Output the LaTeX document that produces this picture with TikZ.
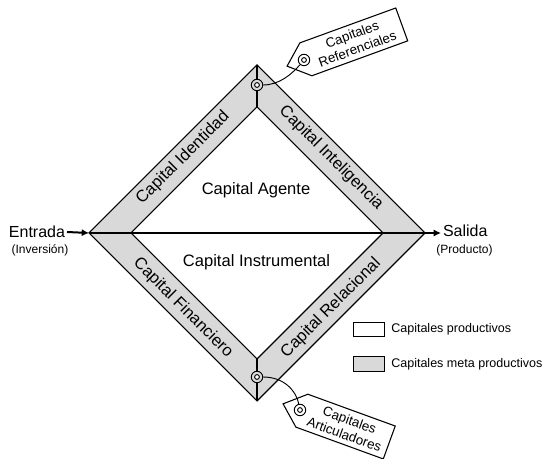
\documentclass[tikz,border=0pt]{standalone}
\usepackage{fontspec}
\setmainfont{Liberation Sans}
\usetikzlibrary{arrows.meta}
\definecolor{metagray}{RGB}{217,217,217}

\begin{document}
\begin{tikzpicture}[x=0.75pt,y=-0.75pt,
  edge/.style={line width=0.8pt, line join=miter},
  cord/.style={line width=0.7pt},
  bigtext/.style={font=\fontsize{12.4}{14}\selectfont, inner sep=0pt},
  iotext/.style={font=\fontsize{12}{14}\selectfont, inner sep=0pt, outer sep=1.5pt},
  smalltext/.style={font=\fontsize{9}{11}\selectfont, inner sep=0pt},
  legtext/.style={font=\fontsize{9.4}{11}\selectfont, inner sep=0pt, anchor=west},
  tagtext/.style={font=\fontsize{10}{11.5}\selectfont, inner sep=0pt, align=center},
  ring/.style={circle, draw, line width=0.7pt, minimum size=8.6pt, inner sep=0pt},
  legbox/.style={draw, line width=0.7pt, minimum width=23.2pt, minimum height=11pt, inner sep=0pt},
  flow/.style={line width=1.5pt, -{Latex[length=5.5pt,width=5.5pt]}}
]
\useasboundingbox (0,0) rectangle (544,459);

% corners of the outer and inner diamonds
\coordinate (L) at (89,233);
\coordinate (R) at (425,233);
\coordinate (T) at (257,65);
\coordinate (B) at (257,401);
\coordinate (iL) at (131,233);
\coordinate (iR) at (383,233);
\coordinate (iT) at (257,107);
\coordinate (iB) at (257,359);

% grey frame of meta-productive capitals, white productive core
\filldraw[fill=metagray, edge] (L) -- (T) -- (R) -- (B) -- cycle;
\filldraw[fill=white, edge] (iL) -- (iT) -- (iR) -- (iB) -- cycle;
\draw[edge] (L) -- (R);
\draw[edge] (T) -- (iT);
\draw[edge] (B) -- (iB);

% capital labels
\node[bigtext] (agente) at (256,190) {Capital Agente};
\node[bigtext] (instrumental) at (256.5,262) {Capital Instrumental};
\node[bigtext, rotate=45] (identidad) at (183,158) {Capital Identidad};
\node[bigtext, rotate=-45] (inteligencia) at (331,158) {Capital Inteligencia};
\node[bigtext, rotate=-45] (financiero) at (183,308) {Capital Financiero};
\node[bigtext, rotate=45] (relacional) at (331,308) {Capital Relacional};

% input and output
\node[iotext, anchor=east] (entrada) at (67,232) {Entrada};
\node[smalltext] (inversion) at (40,250.5) {(Inversión)};
\draw[flow] (entrada.east) -- (L);
\node[iotext, anchor=west] (salida) at (441,231) {Salida};
\node[smalltext] (producto) at (464.5,250) {(Producto)};
\draw[flow] (R) -- (salida.west |- R);

% rings at the top and bottom vertices
\node[ring, fill=metagray] (ringT) at (257,85) {};
\draw[line width=0.7pt, fill=white] (ringT.center) circle[radius=2.4];
\node[ring, fill=metagray] (ringB) at (257,377) {};
\draw[line width=0.7pt, fill=white] (ringB.center) circle[radius=2.4];

% tag: Capitales Referenciales
\coordinate (hT) at (304,60);
\begin{scope}[shift={(hT)}, rotate=20]
  \filldraw[fill=white, edge] (-18,0) -- (2,-17.5) -- (104,-17.5) -- (104,17.5) -- (2,17.5) -- cycle;
  \node[tagtext, rotate=20] (tagref) at (54,0) {Capitales\\Referenciales};
\end{scope}
\node[ring, fill=white] (holeT) at (hT) {};
\draw[line width=0.7pt, fill=white] (holeT.center) circle[radius=2.4];
\draw[cord] (ringT.east) .. controls +(16,0) and +(-12,14) .. (holeT);

% tag: Capitales Articuladores
\coordinate (hB) at (300,410);
\begin{scope}[shift={(hB)}, rotate=-20]
  \filldraw[fill=white, edge] (-18,0) -- (2,-17.5) -- (95,-17.5) -- (95,17.5) -- (2,17.5) -- cycle;
  \node[tagtext, rotate=-20] (tagart) at (50,0) {Capitales\\Articuladores};
\end{scope}
\node[ring, fill=white] (holeB) at (hB) {};
\draw[line width=0.7pt, fill=white] (holeB.center) circle[radius=2.4];
\draw[cord] (ringB.east) .. controls +(20,0) and +(-4,-20) .. (holeB);

% legend
\node[legbox, fill=white] (legprod) at (368.8,329.5) {};
\node[legtext] (legprodtxt) at (391,329.5) {Capitales productivos};
\node[legbox, fill=metagray] (legmeta) at (368.8,364.2) {};
\node[legtext] (legmetatxt) at (391,364.2) {Capitales meta productivos};
\end{tikzpicture}
\end{document}
